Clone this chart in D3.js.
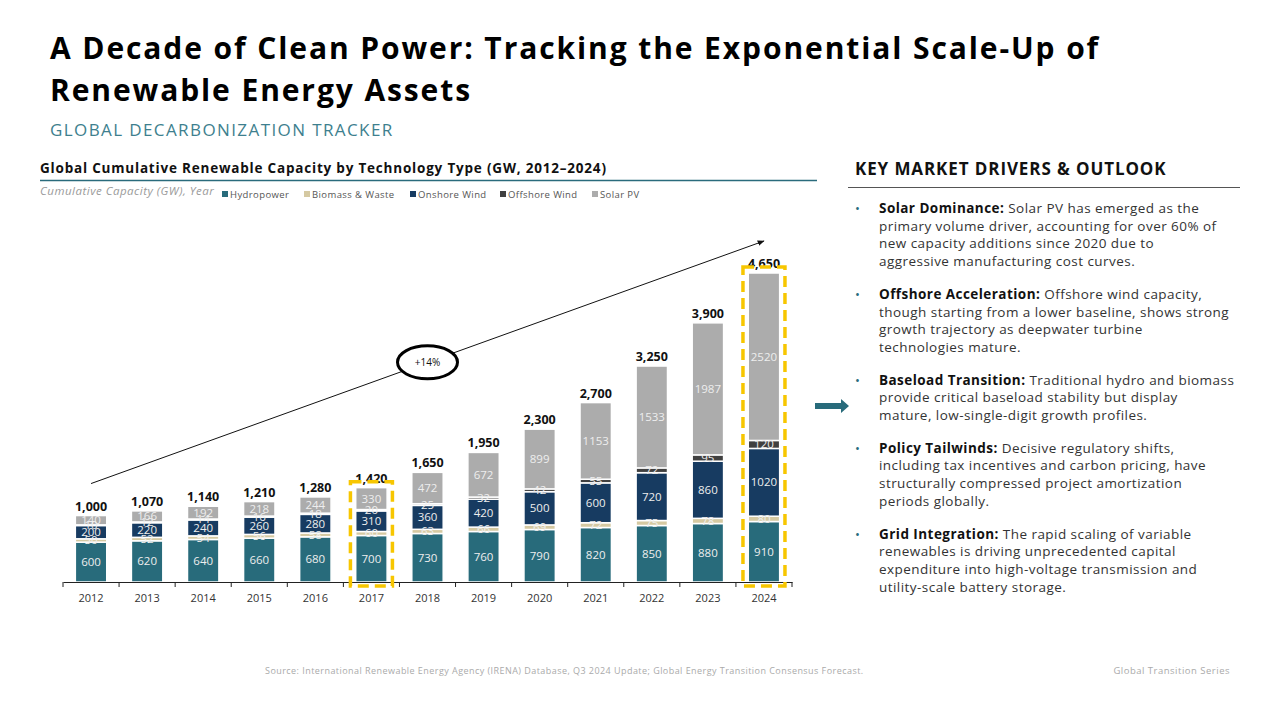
<!DOCTYPE html>
<html>
<head>
<meta charset="utf-8">
<script src="https://cdn.jsdelivr.net/npm/d3@7"></script>
<style>
  body { margin: 0; background: #fff; }
  svg { display: block; font-family: "Open Sans", sans-serif; }
</style>
</head>
<body>
<svg width="1280" height="720"></svg>
<script>
const years = ['2012', '2013', '2014', '2015', '2016', '2017', '2018', '2019', '2020', '2021', '2022', '2023', '2024'];
const hydro    = [600, 620, 640, 660, 680, 700, 730, 760, 790, 820, 850, 880, 910];
const biomass  = [50, 52, 54, 56, 58, 60, 63, 66, 69, 72, 75, 78, 80];
const onshore  = [200, 220, 240, 260, 280, 310, 360, 420, 500, 600, 720, 860, 1020];
const offshore = [10, 12, 14, 16, 18, 20, 25, 32, 42, 55, 72, 95, 120];
const solar    = [140, 166, 192, 218, 244, 330, 472, 672, 899, 1153, 1533, 1987, 2520];
const totals   = [1000, 1070, 1140, 1210, 1280, 1420, 1650, 1950, 2300, 2700, 3250, 3900, 4650];
const highlightYears = ['2017', '2024'];
const seriesNames = ['Hydropower', 'Biomass & Waste', 'Onshore Wind', 'Offshore Wind', 'Solar PV'];
const seriesKeys = ['hydro', 'biomass', 'onshore', 'offshore', 'solar'];
const seriesColors = ['#286b7b', '#d5c9a2', '#173b61', '#404040', '#acacac'];
const growthLabel = '+14%';

const drivers = [
  { head: 'Solar Dominance:', lines: ['Solar PV has emerged as the', 'primary volume driver, accounting for over 60% of', 'new capacity additions since 2020 due to', 'aggressive manufacturing cost curves.'] },
  { head: 'Offshore Acceleration:', lines: ['Offshore wind capacity,', 'though starting from a lower baseline, shows strong', 'growth trajectory as deepwater turbine', 'technologies mature.'] },
  { head: 'Baseload Transition:', lines: ['Traditional hydro and biomass', 'provide critical baseload stability but display', 'mature, low-single-digit growth profiles.'] },
  { head: 'Policy Tailwinds:', lines: ['Decisive regulatory shifts,', 'including tax incentives and carbon pricing, have', 'structurally compressed project amortization', 'periods globally.'] },
  { head: 'Grid Integration:', lines: ['The rapid scaling of variable', 'renewables is driving unprecedented capital', 'expenditure into high-voltage transmission and', 'utility-scale battery storage.'] }
];

const data = years.map((y, i) => ({
  year: y, hydro: hydro[i], biomass: biomass[i], onshore: onshore[i],
  offshore: offshore[i], solar: solar[i], total: totals[i]
}));

const svg = d3.select('svg');

// header
svg.append('text').attr('x', 50).attr('y', 59)
  .attr('font-size', 30).attr('font-weight', 700).attr('fill', '#000')
  .attr('letter-spacing', 1.9)
  .text('A Decade of Clean Power: Tracking the Exponential Scale-Up of');
svg.append('text').attr('x', 50).attr('y', 101)
  .attr('font-size', 30).attr('font-weight', 700).attr('fill', '#000')
  .attr('letter-spacing', 1.9)
  .text('Renewable Energy Assets');
svg.append('text').attr('x', 50).attr('y', 136)
  .attr('font-size', 17).attr('fill', '#3e7f8e').attr('letter-spacing', 1.4)
  .text('GLOBAL DECARBONIZATION TRACKER');

// chart heading
svg.append('text').attr('x', 40).attr('y', 173)
  .attr('font-size', 13.5).attr('font-weight', 700).attr('fill', '#111')
  .attr('letter-spacing', 0.8)
  .text('Global Cumulative Renewable Capacity by Technology Type (GW, 2012–2024)');
svg.append('line').attr('x1', 40).attr('x2', 817).attr('y1', 180.5).attr('y2', 180.5)
  .attr('stroke', '#2a6b7c').attr('stroke-width', 1.5);
svg.append('text').attr('x', 40).attr('y', 195)
  .attr('font-size', 11.5).attr('font-style', 'italic').attr('fill', '#9a9a9a')
  .attr('letter-spacing', 0.5)
  .text('Cumulative Capacity (GW), Year');

// legend
const legendX = [222, 304, 410, 500, 592];
const legend = svg.append('g').selectAll('g').data(seriesNames).enter().append('g')
  .attr('transform', (d, i) => `translate(${legendX[i]},196)`);
legend.append('rect').attr('y', -5).attr('width', 6).attr('height', 6)
  .attr('fill', (d, i) => seriesColors[i]);
legend.append('text').attr('x', 8).attr('y', 1.5)
  .attr('font-size', 9.5).attr('fill', '#555').attr('letter-spacing', 0.4).text(d => d);

// scales
const xScale = d3.scaleBand().domain(years).range([63, 792])
  .paddingInner(0.44).paddingOuter(0.22);
const yScale = d3.scaleLinear().domain([0, 4650]).range([582, 273]);
const xc = d => xScale(d) + xScale.bandwidth() / 2;

const stack = d3.stack().keys(seriesKeys)(data);

const g = svg.append('g');
const layers = g.selectAll('g.layer').data(stack).enter().append('g')
  .attr('class', 'layer').attr('fill', (d, i) => seriesColors[i]);
layers.selectAll('rect').data(d => d).enter().append('rect')
  .attr('x', d => xScale(d.data.year))
  .attr('width', xScale.bandwidth())
  .attr('y', d => yScale(d[1]))
  .attr('height', d => yScale(d[0]) - yScale(d[1]))
  .attr('stroke', '#fff').attr('stroke-width', 1.5);

// segment labels
stack.forEach(layer => {
  g.append('g').selectAll('text').data(layer).enter().append('text')
    .attr('x', d => xc(d.data.year))
    .attr('y', d => (yScale(d[0]) + yScale(d[1])) / 2 + 4)
    .attr('text-anchor', 'middle').attr('font-size', 11.5)
    .attr('fill', '#eeeeee')
    .text(d => d[1] - d[0]);
});

// total labels
g.selectAll('text.total').data(data).enter().append('text')
  .attr('class', 'total')
  .attr('x', d => xc(d.year)).attr('y', d => yScale(d.total) - 5)
  .attr('text-anchor', 'middle').attr('font-size', 12.5).attr('font-weight', 700)
  .attr('fill', '#111').text(d => d3.format(',')(d.total));

// x axis
const xAxis = d3.axisBottom(xScale).tickSize(0).tickPadding(12);
const xg = svg.append('g').attr('transform', 'translate(0,582)').call(xAxis);
xg.select('.domain').attr('stroke', '#222').attr('stroke-width', 1.2);
xg.selectAll('text').attr('font-size', 11).attr('fill', '#333')
  .attr('font-family', '"Open Sans", sans-serif');
xg.selectAll('line.sep').data(d3.range(years.length + 1)).enter().append('line')
  .attr('class', 'sep')
  .attr('x1', i => 63 + i * xScale.step()).attr('x2', i => 63 + i * xScale.step())
  .attr('y1', 0).attr('y2', 5).attr('stroke', '#222');

// highlight boxes
svg.append('g').selectAll('rect').data(data.filter(d => highlightYears.includes(d.year)))
  .enter().append('rect')
  .attr('x', d => xc(d.year) - 21).attr('width', 42)
  .attr('y', d => yScale(d.total) - 6)
  .attr('height', d => 586 - (yScale(d.total) - 6))
  .attr('fill', 'none').attr('stroke', '#f7c600').attr('stroke-width', 3.5)
  .attr('stroke-dasharray', '11,6');

// growth arrow
svg.append('defs').append('marker').attr('id', 'arrow')
  .attr('viewBox', '0 0 10 10').attr('refX', 9).attr('refY', 5)
  .attr('markerWidth', 7).attr('markerHeight', 7).attr('orient', 'auto')
  .append('path').attr('d', 'M0,1L10,5L0,9Z').attr('fill', '#111');
const first = data[0], last = data[data.length - 1];
const ax1 = xc(first.year), ay1 = yScale(first.total) - 32;
const ax2 = xc(last.year), ay2 = yScale(last.total) - 32;
svg.append('line').attr('x1', ax1).attr('y1', ay1).attr('x2', ax2).attr('y2', ay2)
  .attr('stroke', '#111').attr('stroke-width', 1).attr('marker-end', 'url(#arrow)');
const mx = (ax1 + ax2) / 2, my = (ay1 + ay2) / 2;
svg.append('ellipse').attr('cx', mx).attr('cy', my).attr('rx', 30).attr('ry', 16.5)
  .attr('fill', '#fff').attr('stroke', '#000').attr('stroke-width', 3);
svg.append('text').attr('x', mx).attr('y', my + 3.5).attr('text-anchor', 'middle')
  .attr('font-size', 10).attr('fill', '#111').text(growthLabel);

// connector arrow
svg.append('path').attr('d', 'M815,403H841V399L849,406L841,413V409H815Z')
  .attr('fill', '#286b7b');

// right panel
svg.append('text').attr('x', 855).attr('y', 175)
  .attr('font-size', 17).attr('font-weight', 700).attr('fill', '#111')
  .attr('letter-spacing', 0.9)
  .text('KEY MARKET DRIVERS & OUTLOOK');
svg.append('line').attr('x1', 848).attr('x2', 1240).attr('y1', 187.5).attr('y2', 187.5)
  .attr('stroke', '#555').attr('stroke-width', 1);

const lineH = 17.7;
let py = 213;
drivers.forEach(d => {
  svg.append('text').attr('x', 855).attr('y', py).attr('font-size', 13)
    .attr('fill', '#2a6b7c').text('•');
  const t = svg.append('text').attr('x', 879).attr('y', py)
    .attr('font-size', 13.5).attr('fill', '#333').attr('letter-spacing', 0.45);
  t.append('tspan').attr('font-weight', 700).attr('fill', '#111').text(d.head + ' ');
  t.append('tspan').text(d.lines[0]);
  d.lines.slice(1).forEach((l, i) => {
    t.append('tspan').attr('x', 879).attr('y', py + (i + 1) * lineH).text(l);
  });
  py += d.lines.length * lineH + 15;
});

// footer
svg.append('text').attr('x', 265).attr('y', 674).attr('font-size', 9)
  .attr('fill', '#aaa').attr('letter-spacing', 0.45)
  .text('Source: International Renewable Energy Agency (IRENA) Database, Q3 2024 Update; Global Energy Transition Consensus Forecast.');
svg.append('text').attr('x', 1230).attr('y', 674).attr('text-anchor', 'end')
  .attr('font-size', 9.5).attr('fill', '#aaa').attr('letter-spacing', 0.5)
  .text('Global Transition Series');
</script>
</body>
</html>
